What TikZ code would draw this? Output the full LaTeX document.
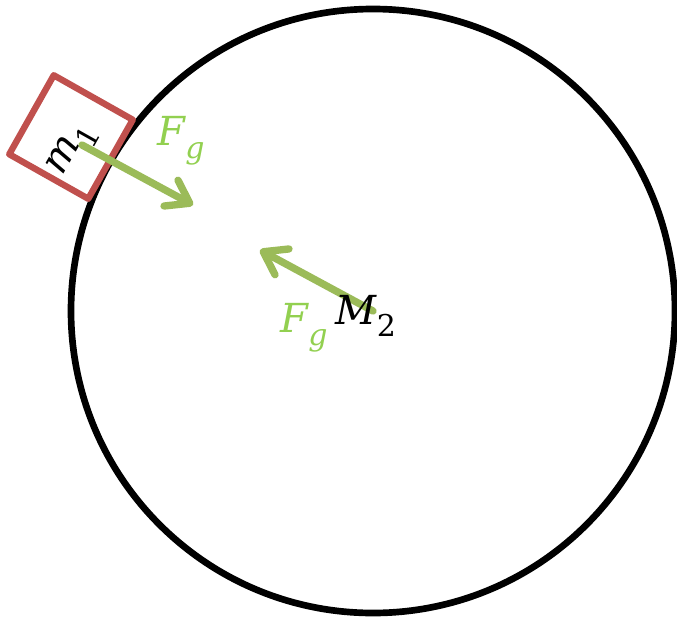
\documentclass[tikz,border=0pt]{standalone}
\usepackage{fontspec}
\setmainfont{DejaVu Serif}
\usetikzlibrary{arrows.meta}

\definecolor{forcegreen}{RGB}{155,187,89}
\definecolor{labelgreen}{RGB}{146,208,80}
\definecolor{bodyred}{RGB}{192,80,77}
\newcommand\lowsub[1]{\raisebox{-0.32em}{\scalebox{0.75}{#1}}}

\begin{document}
\begin{tikzpicture}[x=0.75pt,y=-0.75pt,line join=round,
  force/.style={forcegreen,line width=5.5pt,line cap=round,
    -{Straight Barb[round,length=16pt,width=22pt]}},
  lbl/.style={font=\fontsize{30}{32}\selectfont\itshape,inner sep=0pt}]
  \useasboundingbox (0,0) rectangle (677,617);
  \coordinate (C) at (373,311);
  \draw[line width=5pt] (C) circle (226.5pt);
  % small body on the surface
  \node[draw=bodyred,line width=4.8pt,minimum size=68pt,inner sep=0pt,rotate=-29.4] (m1) at (71,137) {};
  \node[lbl,rotate=60.6] (m1label) at (73,150) {m\lowsub{\upshape 1}};
  % forces
  \coordinate (F1s) at (82,145);
  \coordinate (F1e) at (193,205);
  \coordinate (F2e) at (260,250);
  \draw[force] (F1s) -- (F1e);
  \draw[force] (C) -- (F2e);
  \node[lbl,labelgreen] (Fg1) at (181,141) {F\lowsub{g}};
  \node[lbl,labelgreen] (Fg2) at (304,328) {F\lowsub{g}};
  \node[lbl] (M2) at (366,316) {M\lowsub{\upshape 2}};
\end{tikzpicture}
\end{document}
